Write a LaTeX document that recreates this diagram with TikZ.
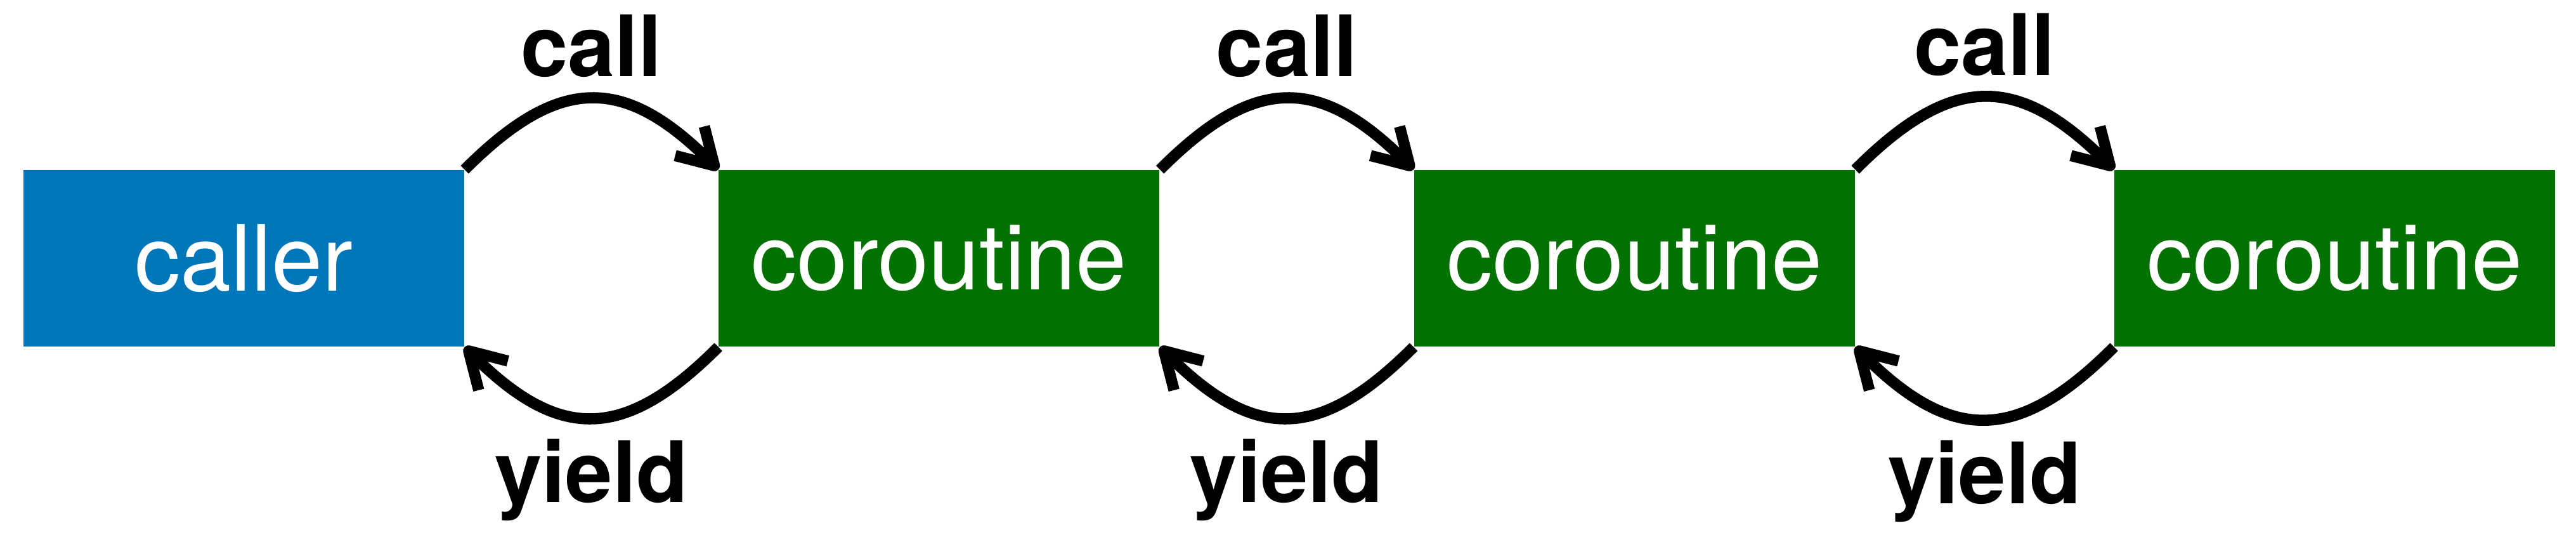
\documentclass[tikz,border=0pt]{standalone}
\usepackage{fontspec}
\newfontfamily\boxfont{TeX Gyre Heros}
\newfontfamily\hopfont{TeX Gyre Heros}
\usetikzlibrary{arrows.meta}
\usetikzlibrary{positioning}
\definecolor{callerblue}{RGB}{0,118,186}
\definecolor{corogreen}{RGB}{2,113,0}

\begin{document}
\begin{tikzpicture}[
 box/.style={minimum width=6.95cm, minimum height=2.78cm, inner sep=0, text=white, font=\boxfont\fontsize{41}{48}\selectfont},
 hop/.style={line width=5pt, -{Straight Barb[length=5.5mm,width=6.5mm,line join=round]}},
 hoplabel/.style={inner sep=0, font=\hopfont\bfseries\fontsize{38}{44}\selectfont}]
\useasboundingbox (0,0) rectangle (40.62,8.42);
\node[box, fill=callerblue] (caller) at (3.845,4.35) {caller};
\node[box, fill=corogreen, right=4cm of caller] (co1) {coroutine};
\node[box, fill=corogreen, right=4cm of co1] (co2) {coroutine};
\node[box, fill=corogreen, right=4.08cm of co2] (co3) {coroutine};
\foreach \a/\b in {caller/co1, co1/co2, co2/co3} {
 \draw[hop] (\a.north east) to[out=45, in=135, looseness=1.35] node[hoplabel, above=0.25cm] {call} (\b.north west);
 \draw[hop] (\b.south west) to[out=-135, in=-45, looseness=1.35] node[hoplabel, below=0.25cm] {yield} (\a.south east);
}
\end{tikzpicture}
\end{document}
